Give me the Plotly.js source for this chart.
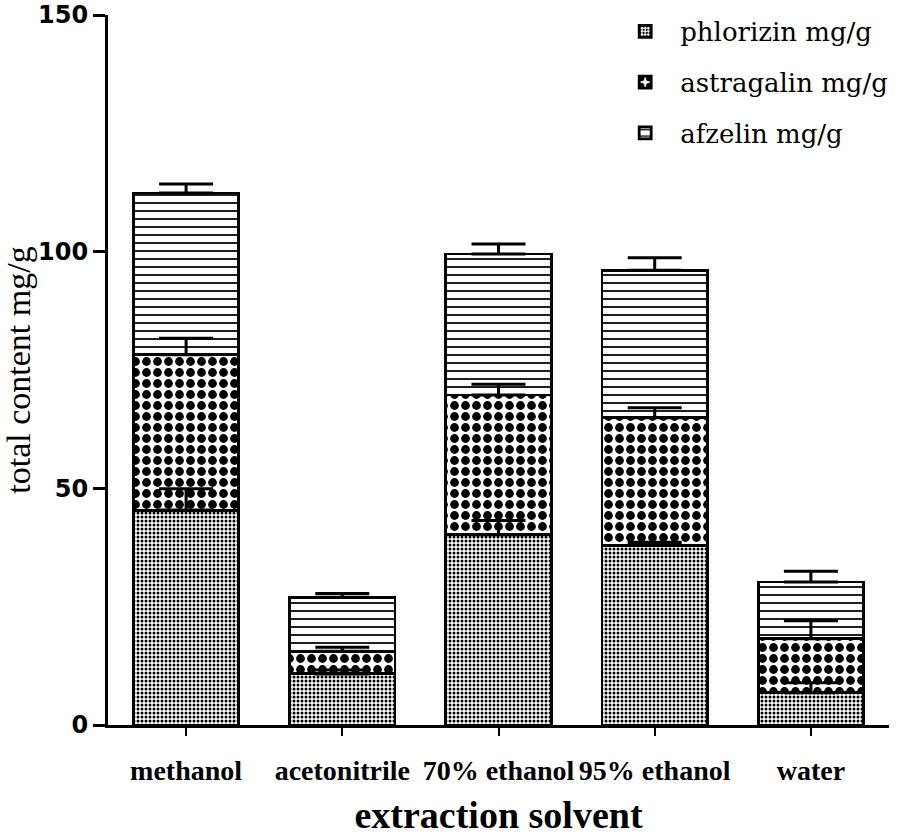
<!DOCTYPE html>
<html>
<head>
<meta charset="utf-8">
<script src="https://cdn.plot.ly/plotly-3.0.1.min.js"></script>
<style>html,body{margin:0;padding:0;background:#fff;}#chart{width:898px;height:836px;}</style>
</head>
<body>
<div id="chart"></div>
<script>
const solvents = ["methanol", "acetonitrile", "70% ethanol", "95% ethanol", "water"];
const phlorizin = [45.4, 10.8, 40.2, 38.0, 6.8];
const phlorizinErr = [4.5, 0.8, 3.0, 0.6, 2.1];
const astragalin = [32.8, 4.8, 29.5, 26.9, 11.4];
const astragalinErr = [3.5, 0.8, 2.3, 2.1, 3.8];
const afzelin = [34.2, 11.4, 29.8, 31.2, 12.0];
const afzelinErr = [1.9, 0.8, 2.1, 2.6, 2.3];
const seriesNames = ["phlorizin mg/g", "astragalin mg/g", "afzelin mg/g"];
const yTicks = [0, 50, 100, 150];

const series = [phlorizin, astragalin, afzelin];
const errs = [phlorizinErr, astragalinErr, afzelinErr];
const patterns = [
  {shape: '.', size: 4, solidity: 0.45, fgcolor: '#000', bgcolor: '#fff', fillmode: 'replace'},
  {shape: '.', size: 11, solidity: 0.5, fgcolor: '#000', bgcolor: '#fff', fillmode: 'replace'},
  {shape: '-', size: 8, solidity: 0.22, fgcolor: '#000', bgcolor: '#fff', fillmode: 'replace'}
];
const traces = [];
series.forEach((vals, i) => {
  traces.push({
    type: 'bar', name: seriesNames[i], x: solvents, y: vals, legendgroup: 'g' + i,
    width: 0.675,
    marker: {color: '#ffffff', line: {color: '#000', width: 2.8}, pattern: patterns[i]},
    hoverinfo: 'none'
  });
});
// error bars drawn above all bars at cumulative tops of each stacked segment
let cum = solvents.map(() => 0);
series.forEach((vals, i) => {
  cum = cum.map((c, k) => c + vals[k]);
  traces.push({
    type: 'scatter', mode: 'markers', x: solvents, y: cum.slice(), showlegend: false,
    marker: {size: 1, opacity: 0},
    error_y: {type: 'data', symmetric: false, array: errs[i], arrayminus: errs[i].map(() => 0),
              color: '#000', thickness: 3, width: 27},
    hoverinfo: 'none'
  });
});
const serif = 'Liberation Serif, Times New Roman, serif';
const layout = {
  width: 898, height: 836,
  margin: {l: 108, r: 5, t: 15, b: 111},
  paper_bgcolor: '#fff', plot_bgcolor: '#fff',
  barmode: 'stack',
  showlegend: true,
  legend: {x: 0.643, xanchor: 'left', y: 1.01, yanchor: 'top', traceorder: 'grouped', tracegroupgap: 14,
           itemwidth: 60,
           font: {family: 'DejaVu Serif, serif', size: 26, color: '#000'}, bgcolor: 'rgba(0,0,0,0)'},
  xaxis: {
    type: 'category', range: [-0.5, 4.5], showgrid: false, zeroline: false,
    showline: true, linecolor: '#000', linewidth: 3,
    ticks: 'outside', ticklen: 8, tickwidth: 2, tickcolor: '#000', ticklabelstandoff: 10,
    tickangle: 0,
    tickfont: {family: serif, size: 28, color: '#000', weight: 'bold'},
    title: {text: 'extraction solvent', font: {family: serif, size: 38, color: '#000', weight: 'bold'}, standoff: 18}
  },
  yaxis: {
    range: [0, 150], tickvals: yTicks, ticktext: yTicks.map(String), showgrid: false, zeroline: false,
    showline: true, linecolor: '#000', linewidth: 3,
    ticks: 'outside', ticklen: 12, tickwidth: 3, tickcolor: '#000',
    tickfont: {family: 'DejaVu Sans, sans-serif', size: 24, color: '#000', weight: 'bold'},
    title: {text: 'total content mg/g', font: {family: serif, size: 34, color: '#000'}, standoff: 8}
  }
};
Plotly.newPlot('chart', traces, layout, {displayModeBar: false, staticPlot: true});
</script>
</body>
</html>
